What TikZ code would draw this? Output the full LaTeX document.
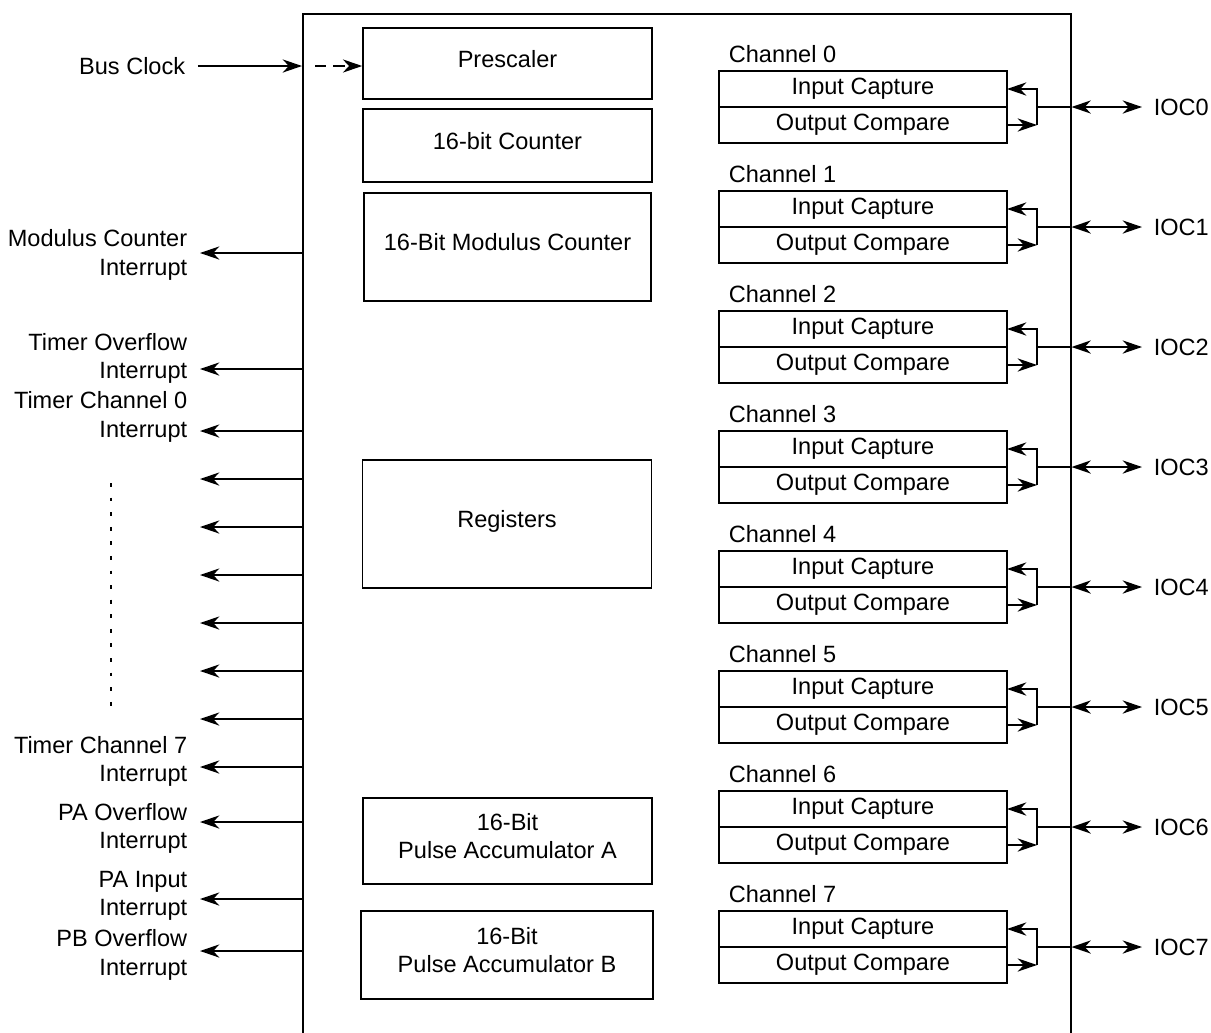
\documentclass[tikz,border=0pt]{standalone}
\usepackage{fontspec}
\setmainfont{Liberation Sans}
\usetikzlibrary{arrows.meta,positioning}
\begin{document}
\begin{tikzpicture}[x=0.02cm, y=-0.02cm,
	line width=0.95pt, font=\fontsize{13.4}{16.2}\selectfont,
	arr/.style={-{Stealth[length=11pt,width=7.5pt,inset=3.5pt]}},
	dblarr/.style={{Stealth[length=11pt,width=7.5pt,inset=3.5pt]}-{Stealth[length=11pt,width=7.5pt,inset=3.5pt]}},
	block/.style={draw, minimum width=5.78cm, align=center, inner sep=0pt, text depth=0.2cm},
	cell/.style={draw, minimum width=5.76cm, minimum height=0.72cm, inner sep=0pt, outer sep=0pt},
	lbl/.style={inner sep=0pt, align=right, anchor=east}]
	\useasboundingbox (0,0) rectangle (1211,1032);
	\clip (0,0) rectangle (1211,1032);
	\node[draw, minimum width=15.36cm, minimum height=20.7cm, anchor=north west] (timer) at (302,13) {};
	% blocks inside the timer
	\node[block, minimum height=1.42cm] (presc) at (507.5,63.5) {Prescaler};
	\node[block, minimum height=1.46cm] (cnt) at (507.5,145.5) {16-bit Counter};
	\node[block, minimum width=5.74cm, minimum height=2.16cm] (modcnt) at (507.5,247) {16-Bit Modulus Counter};
	\node[block, minimum height=2.56cm] (regs) at (507,524) {Registers};
	\node[block, minimum height=1.72cm] (paccA) at (507.5,841) {16-Bit\\Pulse Accumulator A};
	\node[block, minimum width=5.84cm, minimum height=1.76cm] (paccB) at (507,955) {16-Bit\\Pulse Accumulator B};
	% clock input
	\node[lbl] (clk) at (186,66) {Bus Clock};
	\draw[arr] ([xshift=0.24cm]clk.east) -- (timer.west |- clk.east);
	\draw[arr, dash pattern=on 6.5pt off 4pt] ([xshift=0.26cm]timer.west |- clk.east) -- (presc.west |- clk.east);
	% interrupt outputs
	\foreach \name/\txt/\ty/\ay in {mod/{Modulus Counter\\Interrupt}/255/253,
		tov/{Timer Overflow\\Interrupt}/358.5/369, tcz/{Timer Channel 0\\Interrupt}/417/431,
		tcs/{Timer Channel 7\\Interrupt}/761.5/767, pao/{PA Overflow\\Interrupt}/828.5/822,
		pai/{PA Input\\Interrupt}/896/899, pbo/{PB Overflow\\Interrupt}/955/951}{
		\node[lbl] (\name) at (188,\ty) {\txt};
		\coordinate (\name tip) at (200,\ay);
		\draw[arr] (timer.west |- \name tip) -- (\name tip);
	}
	\foreach \y [count=\i] in {479,527,575,623,671,719}{
		\coordinate (irq\i) at (200,\y);
		\draw[arr] (timer.west |- irq\i) -- (irq\i);
	}
	\draw[dash pattern=on 2.2pt off 6.1pt] (111,483) -- (111,712);
	% channels
	\foreach \k in {0,...,7}{
		\pgfmathsetmacro\yt{71+120*\k}
		\node[cell] (ic\k) at (863,\yt+18) {Input Capture};
		\node[cell, below=0pt of ic\k] (oc\k) {Output Compare};
		\node[anchor=west, inner sep=0pt] (ch\k) at (728,\yt-17) {Channel \k};
		\coordinate (jn\k) at (1037,\yt+36);
		\node[anchor=west, inner sep=0pt] (ioc\k) at (1153,\yt+36) {IOC\k};
		\draw[arr] (oc\k.east) -- (jn\k |- oc\k.east);
		\draw[arr] (jn\k |- oc\k.east) -- (jn\k |- ic\k.east) -- (ic\k.east);
		\draw (jn\k) -- (timer.east |- jn\k);
		\draw[dblarr] (timer.east |- jn\k) -- ([xshift=-0.22cm]ioc\k.west);
	}
\end{tikzpicture}
\end{document}
